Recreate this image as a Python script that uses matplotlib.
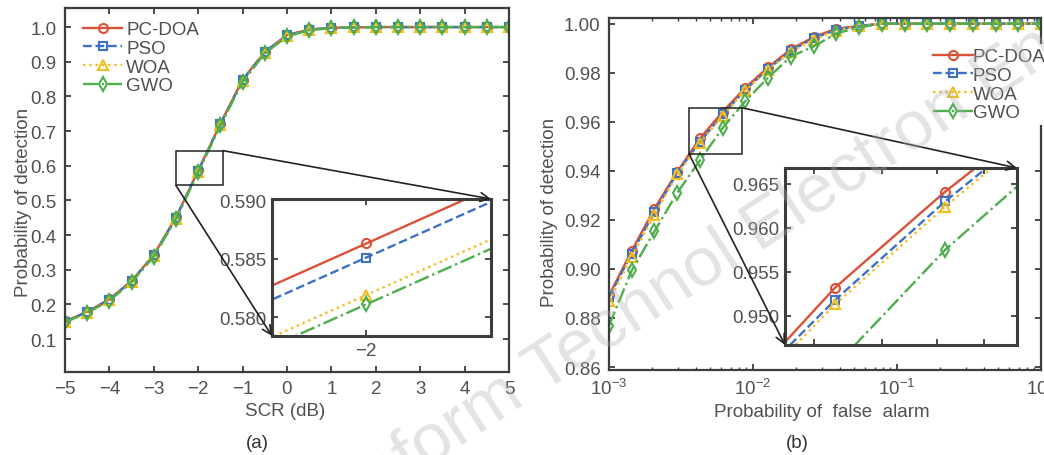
import matplotlib
matplotlib.use('Agg')
import matplotlib.pyplot as plt
from matplotlib.patches import Rectangle, ConnectionPatch
from matplotlib.ticker import FixedLocator, FormatStrFormatter, LogLocator, NullFormatter

# ---- data ----
labels = ['PC-DOA', 'PSO', 'WOA', 'GWO']

# (a) Pd vs SCR
scr = [-5.0, -4.5, -4.0, -3.5, -3.0, -2.5, -2.0, -1.5, -1.0, -0.5, 0.0,
       0.5, 1.0, 1.5, 2.0, 2.5, 3.0, 3.5, 4.0, 4.5, 5.0]
pcdoa_a = [0.151, 0.179, 0.215, 0.268, 0.343, 0.4513, 0.5863, 0.7213, 0.848, 0.929, 0.977,
           0.993, 0.998, 0.999, 1.0, 1.0, 1.0, 1.0, 1.0, 1.0, 1.0]
pso_a = [0.150, 0.178, 0.214, 0.267, 0.342, 0.4501, 0.5851, 0.7201, 0.847, 0.928, 0.976,
         0.992, 0.998, 0.999, 1.0, 1.0, 1.0, 1.0, 1.0, 1.0, 1.0]
woa_a = [0.148, 0.176, 0.212, 0.265, 0.339, 0.4469, 0.5819, 0.7169, 0.843, 0.925, 0.974,
         0.991, 0.997, 0.999, 1.0, 1.0, 1.0, 1.0, 1.0, 1.0, 1.0]
gwo_a = [0.149, 0.176, 0.211, 0.264, 0.338, 0.4461, 0.5811, 0.7161, 0.842, 0.924, 0.973,
         0.991, 0.997, 0.999, 1.0, 1.0, 1.0, 1.0, 1.0, 1.0, 1.0]

# (b) Pd vs Pfa
pfa = [0.001, 0.001438, 0.002069, 0.002976, 0.004281, 0.006158, 0.008859, 0.012743,
       0.01833, 0.026367, 0.037927, 0.054556, 0.078476, 0.112884, 0.162378, 0.233572,
       0.335982, 0.483293, 0.695193, 1.0]
pcdoa_b = [0.8892, 0.9074, 0.9246, 0.9396, 0.9532, 0.9641, 0.9739, 0.9822, 0.9896, 0.9945,
           0.998, 0.999, 1.0, 1.0, 1.0, 1.0, 1.0, 1.0, 1.0, 1.0]
pso_b = [0.8885, 0.9062, 0.9232, 0.9393, 0.9518, 0.9630, 0.9731, 0.9815, 0.9890, 0.9940,
         0.9975, 0.999, 1.0, 1.0, 1.0, 1.0, 1.0, 1.0, 1.0, 1.0]
woa_b = [0.8868, 0.9050, 0.9220, 0.9385, 0.9513, 0.9624, 0.9728, 0.9812, 0.9885, 0.9935,
         0.9972, 0.999, 1.0, 1.0, 1.0, 1.0, 1.0, 1.0, 1.0, 1.0]
gwo_b = [0.8769, 0.8994, 0.9153, 0.9310, 0.9443, 0.9575, 0.9685, 0.9780, 0.9866, 0.9907,
         0.9960, 0.9985, 1.0, 1.0, 1.0, 1.0, 1.0, 1.0, 1.0, 1.0]

# ---- style ----
colors = ['#DB5137', '#3C72C4', '#F2BD1D', '#4CAE4C']
styles = ['-', '--', ':', '-.']
markers = ['o', 's', '^', 'd']
msizes = [6.5, 5.5, 7.5, 7.0]
txt_col = '#505050'
spine_col = '#3c3c3c'

plt.rcParams['font.family'] = ['Liberation Sans', 'DejaVu Sans']
plt.rcParams['mathtext.fontset'] = 'custom'
plt.rcParams['mathtext.rm'] = 'Liberation Sans'
plt.rcParams['font.size'] = 13.5

W, H = 1044, 456
fig = plt.figure(figsize=(W / 100, H / 100), dpi=100)


def px_axes(l, t, r, b):
    return fig.add_axes([l / W, 1 - b / H, (r - l) / W, (b - t) / H])


def style_axes(ax, lw=1.6):
    for s in ax.spines.values():
        s.set_linewidth(lw)
        s.set_color(spine_col)
    ax.tick_params(which='both', direction='in', top=True, right=True,
                   color=spine_col, labelcolor=txt_col, labelsize=13.5, pad=6)
    ax.tick_params(which='major', length=4, width=1.3)
    ax.tick_params(which='minor', length=2.5, width=1.0)


def draw(ax, x, series):
    for y, lab, c, ls, m, ms in zip(series, labels, colors, styles, markers, msizes):
        ax.plot(x, y, color=c, ls=ls, marker=m, ms=ms, mfc='none', mew=1.5,
                lw=1.7, label=lab)


def zoom_arrows(ax, axin, rect):
    x0, x1, y0, y1 = rect
    ax.add_patch(Rectangle((x0, y0), x1 - x0, y1 - y0, fill=False, ec='#222222', lw=1.1, zorder=5))
    for (xa, ya), (xb, yb) in [((x1, y1), (1, 1)), ((x0, y0), (0, 0))]:
        cp = ConnectionPatch(xyA=(xa, ya), coordsA=ax.transData,
                             xyB=(xb, yb), coordsB=axin.transAxes,
                             arrowstyle='->', color='#222222', lw=1.2,
                             mutation_scale=16, shrinkA=0, shrinkB=0, zorder=10)
        fig.add_artist(cp)


def legend(ax, anchor, textpad=0.1):
    leg = ax.legend(loc='upper left', bbox_to_anchor=anchor, borderaxespad=0,
                    frameon=True, edgecolor='none', facecolor='white', framealpha=1,
                    handlelength=2.1, handletextpad=textpad, labelspacing=0.08,
                    borderpad=0.2, fontsize=13.5)
    for t in leg.get_texts():
        t.set_color(txt_col)
    return leg


# ---------------- panel (a) ----------------
ax1 = px_axes(65, 9, 509, 373)
draw(ax1, scr, [pcdoa_a, pso_a, woa_a, gwo_a])
ax1.set_xlim(-5, 5)
ax1.set_ylim(0.005, 1.055)
ax1.set_xticks(range(-5, 6))
ax1.set_yticks([0.1, 0.2, 0.3, 0.4, 0.5, 0.6, 0.7, 0.8, 0.9, 1.0])
ax1.yaxis.set_major_formatter(FormatStrFormatter('%.1f'))
style_axes(ax1)
legend(ax1, (0.032, 0.974), textpad=0.2)

ins1 = px_axes(272, 200, 491, 337)
draw(ins1, scr, [pcdoa_a, pso_a, woa_a, gwo_a])
ins1.set_xlim(-2.0133, -1.9824)
ins1.set_ylim(0.5784, 0.5901)
ins1.set_xticks([-2])
ins1.set_yticks([0.580, 0.585, 0.590])
ins1.yaxis.set_major_formatter(FormatStrFormatter('%.3f'))
style_axes(ins1, lw=2.2)
ins1.tick_params(pad=4)
zoom_arrows(ax1, ins1, (-2.5, -1.44, 0.543, 0.6435))

fig.text(285 / W, 1 - 412 / H, 'SCR (dB)', ha='center', va='center', color=txt_col, fontsize=13.5)
fig.text(24 / W, 1 - 202 / H, 'Probability of detection', ha='center', va='center',
         rotation=90, color=txt_col, fontsize=13.5)
fig.text(257 / W, 1 - 444 / H, '(a)', ha='center', va='center', color='#333333', fontsize=13.5)

# ---------------- panel (b) ----------------
ax2 = px_axes(609, 19, 1041, 371)
draw(ax2, pfa, [pcdoa_b, pso_b, woa_b, gwo_b])
ax2.set_xscale('log')
ax2.set_xlim(1e-3, 1.0)
ax2.set_ylim(0.8588, 1.0023)
ax2.set_yticks([0.86, 0.88, 0.90, 0.92, 0.94, 0.96, 0.98, 1.00])
ax2.yaxis.set_major_formatter(FormatStrFormatter('%.2f'))
ax2.xaxis.set_major_locator(LogLocator(base=10))
ax2.xaxis.set_minor_locator(LogLocator(base=10, subs=range(2, 10)))
ax2.xaxis.set_minor_formatter(NullFormatter())
style_axes(ax2)
legend(ax2, (0.742, 0.925), textpad=0.0)

ins2 = px_axes(785, 169, 1017, 346)
draw(ins2, pfa, [pcdoa_b, pso_b, woa_b, gwo_b])
ins2.set_xscale('log')
ins2.set_xlim(0.00363, 0.00781)
ins2.set_ylim(0.9467, 0.9668)
ins2.set_yticks([0.950, 0.955, 0.960, 0.965])
ins2.yaxis.set_major_formatter(FormatStrFormatter('%.3f'))
ins2.xaxis.set_minor_locator(FixedLocator([0.004, 0.005, 0.006, 0.007]))
ins2.xaxis.set_minor_formatter(NullFormatter())
ins2.xaxis.set_major_formatter(NullFormatter())
style_axes(ins2, lw=2.2)
ins2.tick_params(which='minor', length=4, width=1.3)
ins2.tick_params(pad=4)
zoom_arrows(ax2, ins2, (0.0036, 0.0084, 0.9468, 0.9657))

fig.text(822 / W, 1 - 413 / H, 'Probability of  false  alarm', ha='center', va='center',
         color=txt_col, fontsize=13.5)
fig.text(550 / W, 1 - 212 / H, 'Probability of detection', ha='center', va='center',
         rotation=90, color=txt_col, fontsize=13.5)
fig.text(797 / W, 1 - 444 / H, '(b)', ha='center', va='center', color='#333333', fontsize=13.5)

# watermark
fig.text(641 / W, 1 - 307 / H, 'Front Inform Technol Electron Eng', ha='center', va='center',
         rotation=33, rotation_mode='anchor', fontsize=50, color='#b0b0b0', alpha=0.35, zorder=20)

fig.savefig('out.png', dpi=100)
